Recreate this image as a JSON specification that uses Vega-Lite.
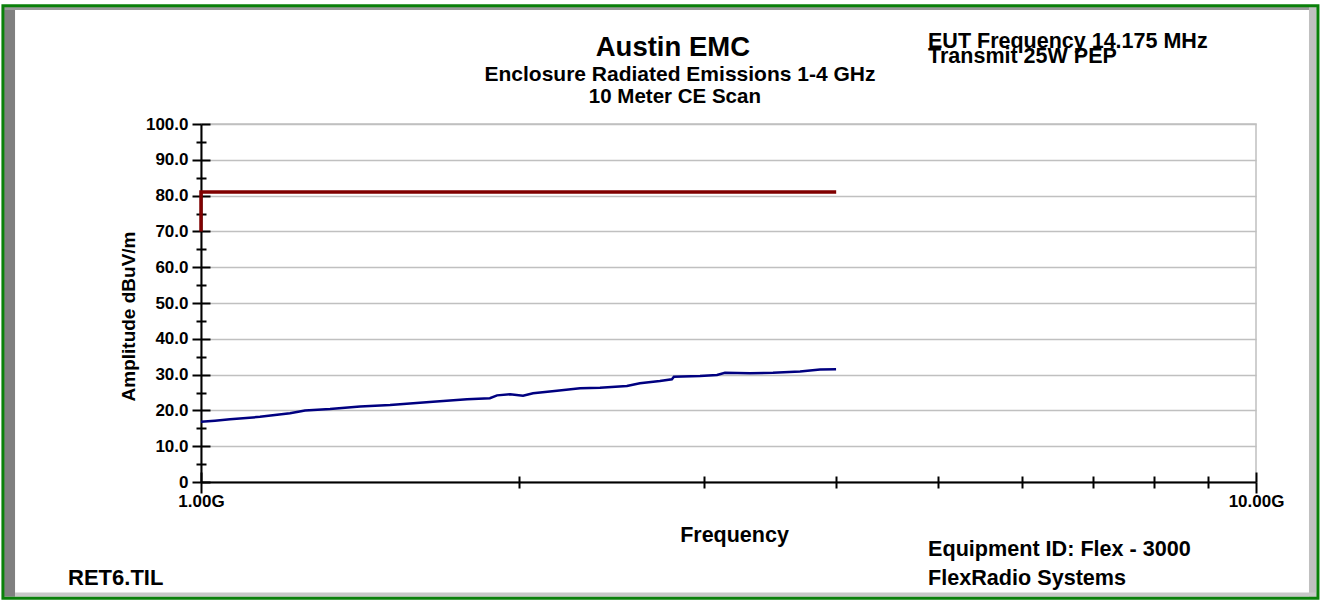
{
  "$schema": "https://vega.github.io/schema/vega-lite/v6.json",
  "width": 1055,
  "height": 358,
  "autosize": {"type": "none"},
  "padding": {"left": 201, "top": 124, "right": 67, "bottom": 120},
  "background": "white",
  "config": {
    "view": {"stroke": "#c0c0c0", "strokeWidth": 1.5},
    "font": "Liberation Sans"
  },
  "datasets": {
    "traces": [
      {"series": "Scan", "freq": 1.0, "amp": 16.8, "i": 0},
      {"series": "Scan", "freq": 1.031, "amp": 17.1, "i": 1},
      {"series": "Scan", "freq": 1.0654, "amp": 17.5, "i": 2},
      {"series": "Scan", "freq": 1.1373, "amp": 18.2, "i": 3},
      {"series": "Scan", "freq": 1.2144, "amp": 19.2, "i": 4},
      {"series": "Scan", "freq": 1.2549, "amp": 20.0, "i": 5},
      {"series": "Scan", "freq": 1.3251, "amp": 20.4, "i": 6},
      {"series": "Scan", "freq": 1.4151, "amp": 21.1, "i": 7},
      {"series": "Scan", "freq": 1.5109, "amp": 21.5, "i": 8},
      {"series": "Scan", "freq": 1.5439, "amp": 21.7, "i": 9},
      {"series": "Scan", "freq": 1.6592, "amp": 22.4, "i": 10},
      {"series": "Scan", "freq": 1.7874, "amp": 23.1, "i": 11},
      {"series": "Scan", "freq": 1.8785, "amp": 23.4, "i": 12},
      {"series": "Scan", "freq": 1.9082, "amp": 24.2, "i": 13},
      {"series": "Scan", "freq": 1.963, "amp": 24.5, "i": 14},
      {"series": "Scan", "freq": 2.0195, "amp": 24.1, "i": 15},
      {"series": "Scan", "freq": 2.0641, "amp": 24.8, "i": 16},
      {"series": "Scan", "freq": 2.175, "amp": 25.5, "i": 17},
      {"series": "Scan", "freq": 2.2872, "amp": 26.2, "i": 18},
      {"series": "Scan", "freq": 2.3888, "amp": 26.3, "i": 19},
      {"series": "Scan", "freq": 2.5333, "amp": 26.8, "i": 20},
      {"series": "Scan", "freq": 2.6062, "amp": 27.6, "i": 21},
      {"series": "Scan", "freq": 2.7225, "amp": 28.2, "i": 22},
      {"series": "Scan", "freq": 2.7948, "amp": 28.7, "i": 23},
      {"series": "Scan", "freq": 2.807, "amp": 29.4, "i": 24},
      {"series": "Scan", "freq": 2.9717, "amp": 29.6, "i": 25},
      {"series": "Scan", "freq": 3.0838, "amp": 29.9, "i": 26},
      {"series": "Scan", "freq": 3.1381, "amp": 30.5, "i": 27},
      {"series": "Scan", "freq": 3.3139, "amp": 30.4, "i": 28},
      {"series": "Scan", "freq": 3.4846, "amp": 30.5, "i": 29},
      {"series": "Scan", "freq": 3.6969, "amp": 30.9, "i": 30},
      {"series": "Scan", "freq": 3.8619, "amp": 31.4, "i": 31},
      {"series": "Scan", "freq": 3.9991, "amp": 31.5, "i": 32},
      {"series": "Limit", "freq": 1.0, "amp": 70.0, "i": 0},
      {"series": "Limit", "freq": 1.0, "amp": 81.0, "i": 1},
      {"series": "Limit", "freq": 4.0, "amp": 81.0, "i": 2}
    ]
  },
  "data": {"name": "traces"},
  "layer": [
    {
      "data": {"values": [{}]},
      "mark": {"type": "rect", "fill": "#808080", "clip": false},
      "encoding": {
        "x": {"datum": 0.6506, "type": "quantitative", "axis": null},
        "x2": {"datum": 0.6664},
        "y": {"datum": 132.77, "type": "quantitative", "axis": null},
        "y2": {"datum": -32.04}
      }
    },
    {
      "data": {"values": [{}]},
      "mark": {"type": "rect", "fill": "#999999", "clip": false},
      "encoding": {
        "x": {"datum": 0.6506, "type": "quantitative", "axis": null},
        "x2": {"datum": 11.411},
        "y": {"datum": 132.77, "type": "quantitative", "axis": null},
        "y2": {"datum": 131.84}
      }
    },
    {
      "data": {"values": [{}]},
      "mark": {"type": "rect", "fill": "#c0c0c0", "clip": false},
      "encoding": {
        "x": {"datum": 11.226, "type": "quantitative", "axis": null},
        "x2": {"datum": 11.411},
        "y": {"datum": 132.77, "type": "quantitative", "axis": null},
        "y2": {"datum": -32.04}
      }
    },
    {
      "data": {"values": [{}]},
      "mark": {"type": "rect", "fill": "#c8c8c8", "clip": false},
      "encoding": {
        "x": {"datum": 0.6664, "type": "quantitative", "axis": null},
        "x2": {"datum": 11.411},
        "y": {"datum": -30.87, "type": "quantitative", "axis": null},
        "y2": {"datum": -32.04}
      }
    },
    {
      "data": {"values": [{}]},
      "mark": {"type": "rect", "fill": null, "fillOpacity": 0, "stroke": "#0a800a", "strokeWidth": 3, "clip": false},
      "encoding": {
        "x": {"datum": 0.649, "type": "quantitative", "axis": null},
        "x2": {"datum": 11.448},
        "y": {"datum": 133.0, "type": "quantitative", "axis": null},
        "y2": {"datum": -32.49}
      }
    },
    {
      "transform": [{"filter": "datum.series == 'Scan'"}],
      "mark": {"type": "line", "color": "#000080", "strokeWidth": 2.5},
      "encoding": {
        "x": {
          "field": "freq",
          "type": "quantitative",
          "scale": {"type": "log", "domain": [1, 10]},
          "axis": {
            "values": [1, 2, 3, 4, 5, 6, 7, 8, 9, 10],
            "labelExpr": "datum.value == 1 ? '1.00G' : (datum.value == 10 ? '10.00G' : '')",
            "tickSize": {"condition": {"test": "datum.value != 1 && datum.value != 10", "value": 6}, "value": 11},
            "tickWidth": 2,
            "tickColor": "black",
            "domainColor": "black",
            "domainWidth": 2,
            "grid": false,
            "labelFont": "Liberation Sans",
            "labelFontSize": 17,
            "labelFontWeight": "bold",
            "labelColor": "black",
            "labelPadding": 0,
            "labelFlush": false,
            "labelOverlap": false,
            "title": "Frequency",
            "titleFont": "Liberation Sans",
            "titleFontSize": 21.5,
            "titleFontWeight": "bold",
            "titleColor": "black",
            "titlePadding": 15,
            "titleX": 533
          }
        },
        "y": {
          "field": "amp",
          "type": "quantitative",
          "scale": {"domain": [0, 100]},
          "axis": {
            "values": [0, 5, 10, 15, 20, 25, 30, 35, 40, 45, 50, 55, 60, 65, 70, 75, 80, 85, 90, 95, 100],
            "labelExpr": "datum.value % 10 != 0 ? '' : (datum.value == 0 ? '0' : format(datum.value, '.1f'))",
            "tickSize": {"condition": {"test": "datum.value % 10 != 0", "value": 5}, "value": 9},
            "tickWidth": 2,
            "tickColor": "black",
            "domainColor": "black",
            "domainWidth": 2,
            "grid": true,
            "gridColor": "#c0c0c0",
            "gridWidth": 1.5,
            "gridOpacity": {"condition": {"test": "datum.value % 10 != 0", "value": 0}, "value": 1},
            "labelFont": "Liberation Sans",
            "labelFontSize": 17,
            "labelFontWeight": "bold",
            "labelColor": "black",
            "labelPadding": 4,
            "labelFlush": false,
            "labelOverlap": false,
            "title": "Amplitude dBuV/m",
            "titleFont": "Liberation Sans",
            "titleFontSize": 19,
            "titleFontWeight": "bold",
            "titleColor": "black",
            "titlePadding": 7,
            "titleY": 192
          }
        }
      }
    },
    {
      "transform": [{"filter": "datum.series == 'Limit'"}],
      "mark": {"type": "line", "color": "#800000", "strokeWidth": 3.5},
      "encoding": {
        "x": {
          "field": "freq",
          "type": "quantitative",
          "scale": {"type": "log", "domain": [1, 10]},
          "axis": {
            "orient": "bottom",
            "values": [1, 2, 3, 4, 5, 6, 7, 8, 9, 10],
            "tickSize": {"condition": {"test": "datum.value != 1 && datum.value != 10", "value": -6}, "value": -10},
            "tickWidth": 2,
            "tickColor": "black",
            "labels": false,
            "domain": false,
            "grid": false,
            "title": null
          }
        },
        "y": {
          "field": "amp",
          "type": "quantitative",
          "scale": {"domain": [0, 100]},
          "axis": {
            "orient": "left",
            "values": [0, 5, 10, 15, 20, 25, 30, 35, 40, 45, 50, 55, 60, 65, 70, 75, 80, 85, 90, 95, 100],
            "tickSize": {"condition": {"test": "datum.value % 10 != 0", "value": -5}, "value": -9},
            "tickWidth": 2,
            "tickColor": "black",
            "labels": false,
            "domain": false,
            "grid": false,
            "title": null
          }
        },
        "order": {"field": "i", "type": "quantitative"}
      }
    },
    {
      "data": {"values": [{}]},
      "mark": {"type": "text", "align": "center", "baseline": "alphabetic", "font": "Liberation Sans", "fontSize": 27.5, "fontWeight": "bold", "color": "black"},
      "encoding": {
        "x": {"datum": 2.8009, "type": "quantitative", "axis": null},
        "y": {"datum": 119.0, "type": "quantitative", "axis": null},
        "text": {"value": "Austin EMC"}
      }
    },
    {
      "data": {"values": [{}]},
      "mark": {"type": "text", "align": "center", "baseline": "alphabetic", "font": "Liberation Sans", "fontSize": 21, "fontWeight": "bold", "color": "black"},
      "encoding": {
        "x": {"datum": 2.8443, "type": "quantitative", "axis": null},
        "y": {"datum": 112.1, "type": "quantitative", "axis": null},
        "text": {"value": "Enclosure Radiated Emissions 1-4 GHz"}
      }
    },
    {
      "data": {"values": [{}]},
      "mark": {"type": "text", "align": "center", "baseline": "alphabetic", "font": "Liberation Sans", "fontSize": 20.5, "fontWeight": "bold", "color": "black"},
      "encoding": {
        "x": {"datum": 2.8131, "type": "quantitative", "axis": null},
        "y": {"datum": 105.8, "type": "quantitative", "axis": null},
        "text": {"value": "10 Meter CE Scan"}
      }
    },
    {
      "data": {"values": [{}]},
      "mark": {"type": "text", "align": "left", "baseline": "alphabetic", "font": "Liberation Sans", "fontSize": 21.5, "fontWeight": "bold", "color": "black", "lineHeight": 15},
      "encoding": {
        "x": {"datum": 4.888, "type": "quantitative", "axis": null},
        "y": {"datum": 121.1, "type": "quantitative", "axis": null},
        "text": {"value": ["EUT Frequency 14.175 MHz", "Transmit 25W PEP"]}
      }
    },
    {
      "data": {"values": [{}]},
      "mark": {"type": "text", "align": "left", "baseline": "alphabetic", "font": "Liberation Sans", "fontSize": 21.6, "fontWeight": "bold", "color": "black", "lineHeight": 29},
      "encoding": {
        "x": {"datum": 4.888, "type": "quantitative", "axis": null},
        "y": {"datum": -20.6, "type": "quantitative", "axis": null},
        "text": {"value": ["Equipment ID: Flex - 3000", "FlexRadio Systems"]}
      }
    },
    {
      "data": {"values": [{}]},
      "mark": {"type": "text", "align": "left", "baseline": "alphabetic", "font": "Liberation Sans", "fontSize": 22, "fontWeight": "bold", "color": "black"},
      "encoding": {
        "x": {"datum": 0.7481, "type": "quantitative", "axis": null},
        "y": {"datum": -28.8, "type": "quantitative", "axis": null},
        "text": {"value": "RET6.TIL"}
      }
    }
  ],
  "resolve": {"axis": {"x": "independent", "y": "independent"}}
}
